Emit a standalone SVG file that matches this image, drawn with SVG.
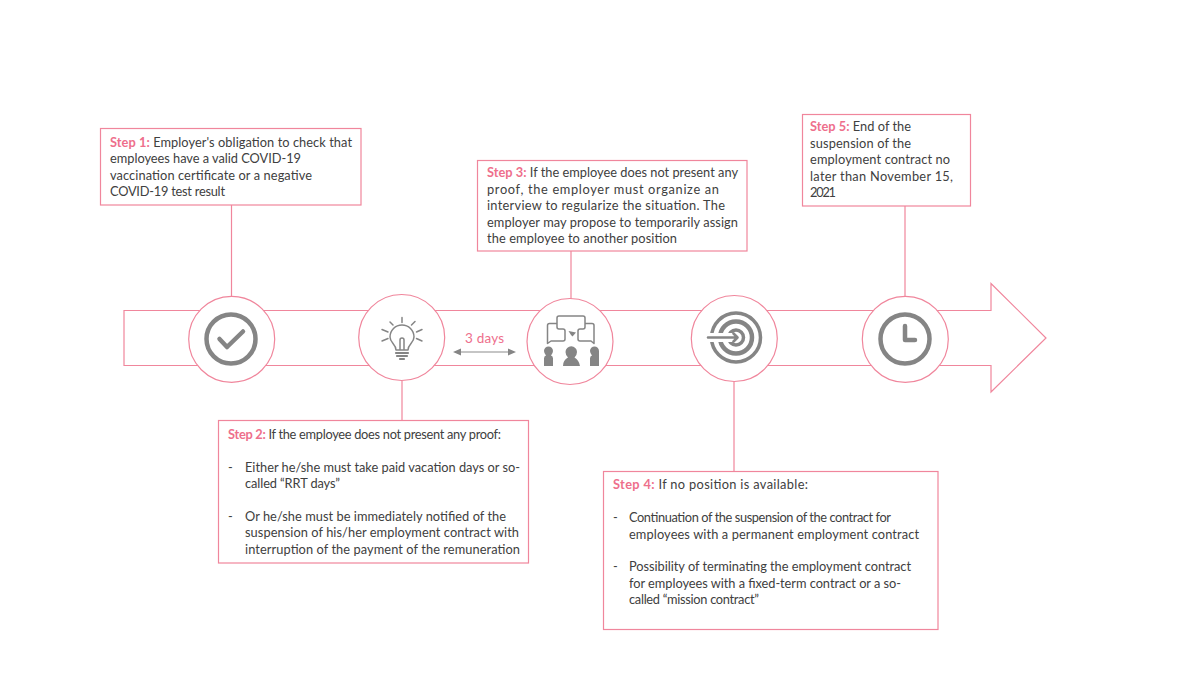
<svg xmlns="http://www.w3.org/2000/svg" width="1200" height="675" viewBox="0 0 1200 675">
<style>
.ln{fill:none;stroke:#f0869c;stroke-width:1.2}
.box{fill:#fff;stroke:#f0869c;stroke-width:1.2}
.circ{fill:#fff;stroke:#f0869c;stroke-width:1.2}
.ic{fill:none;stroke:#858585;stroke-linecap:round;stroke-linejoin:round}
.icf{fill:#858585;stroke:none}
text{font-family:"Lato","Liberation Sans",sans-serif;font-size:12.800px;fill:#404040}
.s{font-weight:700;fill:#ee6f8c}
</style>
<rect width="1200" height="675" fill="#fff"/>
<g id="timeline-arrow"><path class="ln" d="M124 310.500H991V283.500L1046 338L991 392V365.500H124Z"/></g>
<g id="connectors">
<path class="ln" d="M231.500 205V296M402 381V420M571 251V299M734 381V471M905 189V296"/>
<path d="M456 352H513" fill="none" stroke="#8c8c8c" stroke-width="1.200"/>
<path class="icf" d="M453 352l8-3.500v7zM516 352l-8-3.500v7z"/>
</g>
<g id="node-step1-box"><rect class="box" x="100.500" y="128.500" width="260.500" height="76.500"/>
<text x="110" y="146.500" textLength="242"><tspan class="s">Step 1:</tspan> Employer's obligation to check that</text>
<text x="110" y="162.500" textLength="191">employees have a valid COVID-19</text>
<text x="110" y="179.500" textLength="202">vaccination certificate or a negative</text>
<text x="110" y="195.500" textLength="115">COVID-19 test result</text></g>
<g id="node-step3-box"><rect class="box" x="477.500" y="160.500" width="269.500" height="90.500"/>
<text x="487" y="176.500" textLength="251"><tspan class="s">Step 3:</tspan> If the employee does not present any</text>
<text x="487" y="193.500" textLength="232">proof, the employer must organize an</text>
<text x="487" y="209.500" textLength="238">interview to regularize the situation. The</text>
<text x="487" y="226.500" textLength="251">employer may propose to temporarily assign</text>
<text x="487" y="242.500" textLength="190">the employee to another position</text></g>
<g id="node-step5-box"><rect class="box" x="802.500" y="114.500" width="168" height="91.500"/>
<text x="810" y="130.500" textLength="101"><tspan class="s">Step 5:</tspan> End of the</text>
<text x="810" y="147.500" textLength="101">suspension of the</text>
<text x="810" y="163.500" textLength="140">employment contract no</text>
<text x="810" y="180.500" textLength="143">later than November 15,</text>
<text x="810" y="196.500" textLength="26">2021</text></g>
<g id="node-step2-box"><rect class="box" x="218.500" y="420.500" width="310" height="142.500"/>
<text x="228" y="438.500" textLength="273"><tspan class="s">Step 2:</tspan> If the employee does not present any proof:</text>
<text x="228" y="471.500">-</text><text x="245" y="471.500" textLength="275">Either he/she must take paid vacation days or so-</text>
<text x="245" y="487.500" textLength="95">called “RRT days”</text>
<text x="228" y="520.500">-</text><text x="245" y="520.500" textLength="261">Or he/she must be immediately notified of the</text>
<text x="245" y="536.500" textLength="274">suspension of his/her employment contract with</text>
<text x="245" y="553.500" textLength="275">interruption of the payment of the remuneration</text></g>
<g id="node-step4-box"><rect class="box" x="603.500" y="471.500" width="334.500" height="158"/>
<text x="613" y="488.500" textLength="195"><tspan class="s">Step 4:</tspan> If no position is available:</text>
<text x="613" y="521.500">-</text><text x="629" y="521.500" textLength="262">Continuation of the suspension of the contract for</text>
<text x="629" y="538.500" textLength="290">employees with a permanent employment contract</text>
<text x="613" y="570.500">-</text><text x="629" y="570.500" textLength="282">Possibility of terminating the employment contract</text>
<text x="629" y="587.500" textLength="272">for employees with a fixed-term contract or a so-</text>
<text x="629" y="603.500" textLength="130">called “mission contract”</text></g>
<g id="node-circle1"><circle class="circ" cx="231.700" cy="339.300" r="43"/>
<circle class="ic" cx="231" cy="339" r="24.500" stroke-width="4.500"/>
<path class="ic" stroke-width="4.500" d="M219.500 339L227 347L243 331.500"/></g>
<g id="node-circle2"><circle class="circ" cx="401.700" cy="337.500" r="43"/>
<path class="ic" stroke-width="1.500" d="M396 350C396 344 390 343 390 337A12 12 0 0 1 414 337C414 343 408 344 408 350ZM400 350V340A2 2 0 0 1 404 340V350"/>
<path class="ic" stroke-width="2.200" d="M396 353H408M397 356H407M400 359H404"/>
<path class="ic" stroke-width="1.500" d="M402 317.500V322.500M390 322L393 325M415 321.500L411.500 325M382 329.500L388 332M422 329.500L416.500 332M382 341L388 338.500M422 341L416.500 338.500"/></g>
<g id="node-circle3"><circle class="circ" cx="570" cy="341.500" r="43"/>
<path class="ic" stroke-width="1.500" d="M557 323.500H549.500Q547.500 323.500 547.500 325.500V343.500L551 341H563Q565 341 565 339V331Q565 329 563 329H559Q557 329 557 327V318Q557 316 559 316H583Q585 316 585 318V327Q585 329 583 329H580Q578 329 578 331V339Q578 341 580 341H591L594 343.500V325.500Q594 323.500 592 323.500H585"/>
<path class="icf" d="M568.500 331L576 332.500L572.500 336.500L571 335Z"/>
<path class="icf" d="M544 366V358.500Q544 356 546 355.500Q544 353 544 351A4.500 4.500 0 0 1 553 351Q553 353 551 355.500Q553 356 553 358.500V366ZM563 366Q563 360 568 357.500Q565.500 355 565.500 352A5.500 5.500 0 0 1 577 352Q577 355 574.500 357.500Q579 360 580 366ZM590 366V358.500Q590 356 592 355.500Q590 353 590 351A4.500 4.500 0 0 1 599 351V366Z"/></g>
<g id="node-circle4"><circle class="circ" cx="734.300" cy="338.500" r="43"/>
<circle class="ic" cx="736" cy="337.500" r="24.500" stroke-width="3.500"/>
<circle class="ic" cx="736" cy="337.500" r="16" stroke-width="4.500"/>
<circle class="ic" cx="736" cy="337.500" r="7.500" stroke-width="3.500"/>
<path d="M706 333H736V342H706Z" fill="#fff"/>
<path class="ic" stroke-width="2.600" d="M708 337.500H737M733.500 333.500L737.500 337.500L733.500 341.500"/></g>
<g id="node-circle5"><circle class="circ" cx="905.300" cy="339.300" r="43"/>
<circle class="ic" cx="905" cy="339" r="24.500" stroke-width="4.500"/>
<path class="ic" stroke-width="4.500" d="M905 326V340H915"/></g>
<g id="label-3days"><text x="465" y="342.500" textLength="39" style="font-size:13.500px;fill:#ee6f8c">3 days</text></g>
</svg>
